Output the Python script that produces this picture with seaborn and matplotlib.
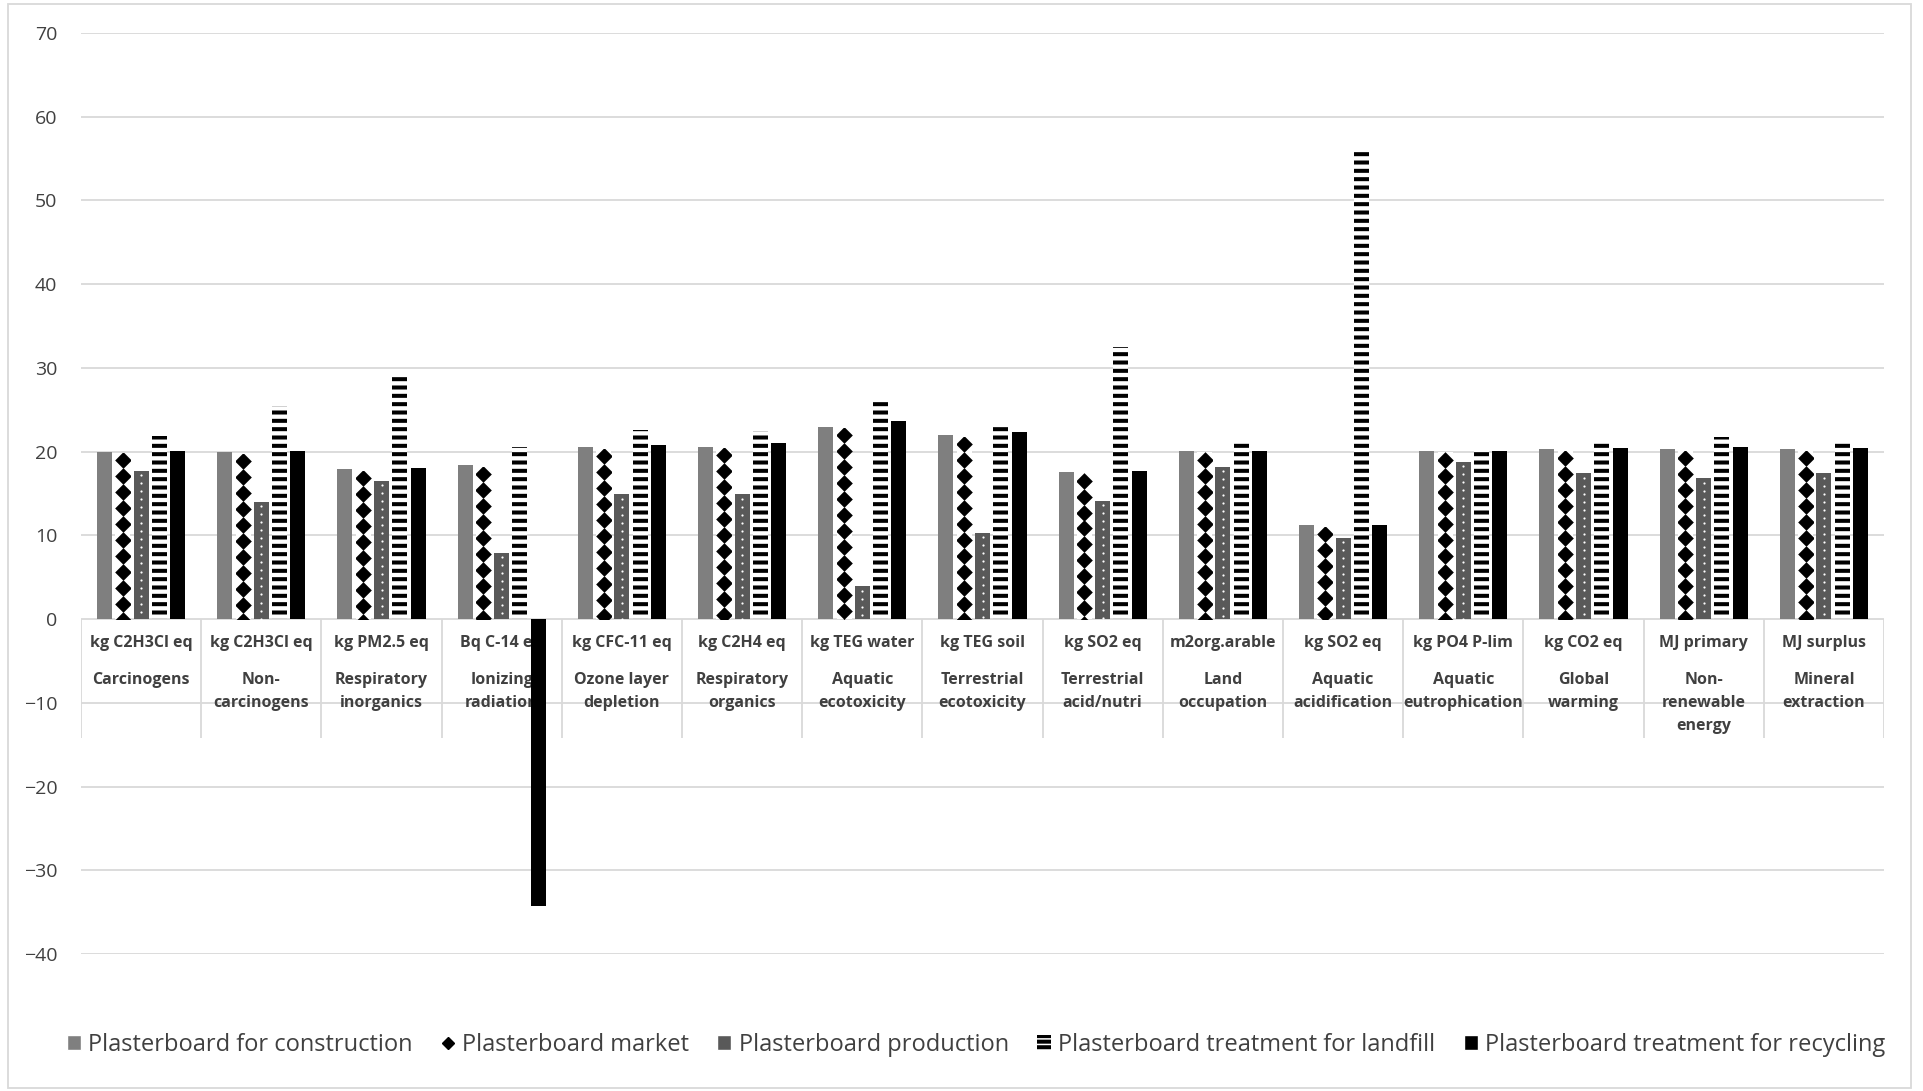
import matplotlib.pyplot as plt
import numpy as np
import seaborn as sns
import pandas as pd
from matplotlib.patches import Patch, Rectangle
from matplotlib.lines import Line2D

# impact categories (outer label) and their units (inner label)
categories = ["Carcinogens", "Non-\ncarcinogens", "Respiratory\ninorganics", "Ionizing\nradiation",
              "Ozone layer\ndepletion", "Respiratory\norganics", "Aquatic\necotoxicity",
              "Terrestrial\necotoxicity", "Terrestrial\nacid/nutri", "Land\noccupation",
              "Aquatic\nacidification", "Aquatic\neutrophication", "Global\nwarming",
              "Non-\nrenewable\nenergy", "Mineral\nextraction"]
units = ["kg C2H3Cl eq", "kg C2H3Cl eq", "kg PM2.5 eq", "Bq C-14 eq", "kg CFC-11 eq", "kg C2H4 eq",
         "kg TEG water", "kg TEG soil", "kg SO2 eq", "m2org.arable", "kg SO2 eq", "kg PO4 P-lim",
         "kg CO2 eq", "MJ primary", "MJ surplus"]
series = ["Plasterboard for construction", "Plasterboard market", "Plasterboard production",
          "Plasterboard treatment for landfill", "Plasterboard treatment for recycling"]

construction = [20.0, 19.9, 17.9, 18.4, 20.5, 20.6, 23.0, 22.0, 17.6, 20.1, 11.2, 20.1, 20.3, 20.3, 20.3]
market = [19.8, 19.7, 17.7, 18.2, 20.3, 20.4, 22.8, 21.8, 17.4, 19.9, 11.0, 19.9, 20.1, 20.1, 20.1]
production = [17.7, 14.0, 16.5, 7.9, 14.9, 14.9, 3.9, 10.3, 14.1, 18.2, 9.7, 18.8, 17.4, 16.8, 17.4]
landfill = [21.9, 25.4, 29.3, 20.6, 22.6, 22.5, 26.2, 23.0, 32.5, 21.0, 56.3, 20.2, 21.1, 21.7, 21.1]
recycling = [20.1, 20.1, 18.0, -34.3, 20.8, 21.0, 23.6, 22.3, 17.7, 20.1, 11.2, 20.1, 20.4, 20.5, 20.4]

sns.set_style("white")
plt.rcParams['font.family'] = ['Open Sans', 'DejaVu Sans']
plt.rcParams['hatch.linewidth'] = 2.9

df = pd.DataFrame({
    "Category": categories * 5,
    "Series": np.repeat(series, len(categories)),
    "Value": construction + market + production + landfill + recycling,
})

W, H = 1923, 1091
fig = plt.figure(figsize=(W / 100, H / 100), dpi=100)
ax = fig.add_axes([81 / W, 1 - 954 / H, (1884 - 81) / W, (954 - 33) / H])

sns.barplot(data=df, x="Category", y="Value", hue="Series", order=categories, hue_order=series,
            errorbar=None, width=0.76, gap=0.18, palette=["#7f7f7f", "white", "#595959", "white", "black"],
            legend=False, ax=ax, zorder=3)

cons_c, mark_c, prod_c, land_c, rec_c = ax.containers
for b in cons_c:
    b.set_facecolor("#7f7f7f")
    b.set_linewidth(0)
for b in mark_c:
    # white bar filled with a column of black diamonds
    b.set_facecolor("white")
    b.set_linewidth(0)
    xc = b.get_x() + b.get_width() / 2
    ys = np.arange(b.get_height() - 0.85, -1.0, -1.91)
    sc = ax.scatter(np.full(len(ys), xc), ys, marker="D", s=72, color="black", linewidths=0, zorder=4)
    sc.set_clip_path(b)
for b in prod_c:
    # dark grey with small white dots
    b.set_facecolor("#595959")
    b.set_linewidth(0)
    xc = b.get_x() + b.get_width() / 2
    ys = np.arange(b.get_height() - 0.5, 0, -0.96)
    ax.scatter(np.full(len(ys), xc), ys, marker="o", s=2.5, color="white", linewidths=0, zorder=4)
for b in land_c:
    b.set_facecolor("white")
    b.set_edgecolor("black")
    b.set_linewidth(0)
    b.set_hatch("--")
for b in rec_c:
    b.set_facecolor("black")
    b.set_linewidth(0)

ax.set_ylim(-40, 70)
ax.set_xlim(-0.5, len(categories) - 0.5)
ax.set_yticks(range(-40, 71, 10))
ax.yaxis.grid(True, color="#d9d9d9", lw=1.3)
ax.set_axisbelow(True)
sns.despine(ax=ax, left=True, bottom=True)
ax.set_xticks(range(len(categories)))
ax.set_xticklabels([])
ax.tick_params(axis="x", length=0)
ax.tick_params(axis="y", length=0, pad=17, labelsize=14, labelcolor="#404040")
ax.set_xlabel("")
ax.set_ylabel("")

# multi-level category axis like excel
ax.vlines(np.arange(len(categories) + 1) - 0.5, -14.2, 0, color="#d9d9d9", lw=1.3, zorder=1)
for i, (u, c) in enumerate(zip(units, categories)):
    ax.text(i, -2.9, u, ha="center", va="center", fontsize=11.5, fontweight="bold", color="#404040", zorder=1)
    ax.text(i, -6.3, c, ha="center", va="top", fontsize=11.5, fontweight="bold", color="#404040",
            linespacing=1.6, zorder=1)

handles = [Patch(facecolor="#7f7f7f"),
           Line2D([], [], marker="D", color="black", linestyle="none", markersize=6.5),
           Patch(facecolor="#595959"),
           Patch(facecolor="white", edgecolor="black", hatch="---", linewidth=0),
           Patch(facecolor="black")]
fig.legend(handles, series, loc="center", bbox_to_anchor=(0.5075, 0.042), ncol=5, frameon=False,
           fontsize=17, handlelength=0.6, handleheight=0.6, handletextpad=0.3, columnspacing=1.2,
           labelcolor="#404040")

fig.add_artist(Rectangle((8 / W, 3 / H), 1903 / W, 1084 / H, transform=fig.transFigure,
                         fill=False, edgecolor="#d9d9d9", lw=1.3))

fig.savefig("out.png", dpi=100)
